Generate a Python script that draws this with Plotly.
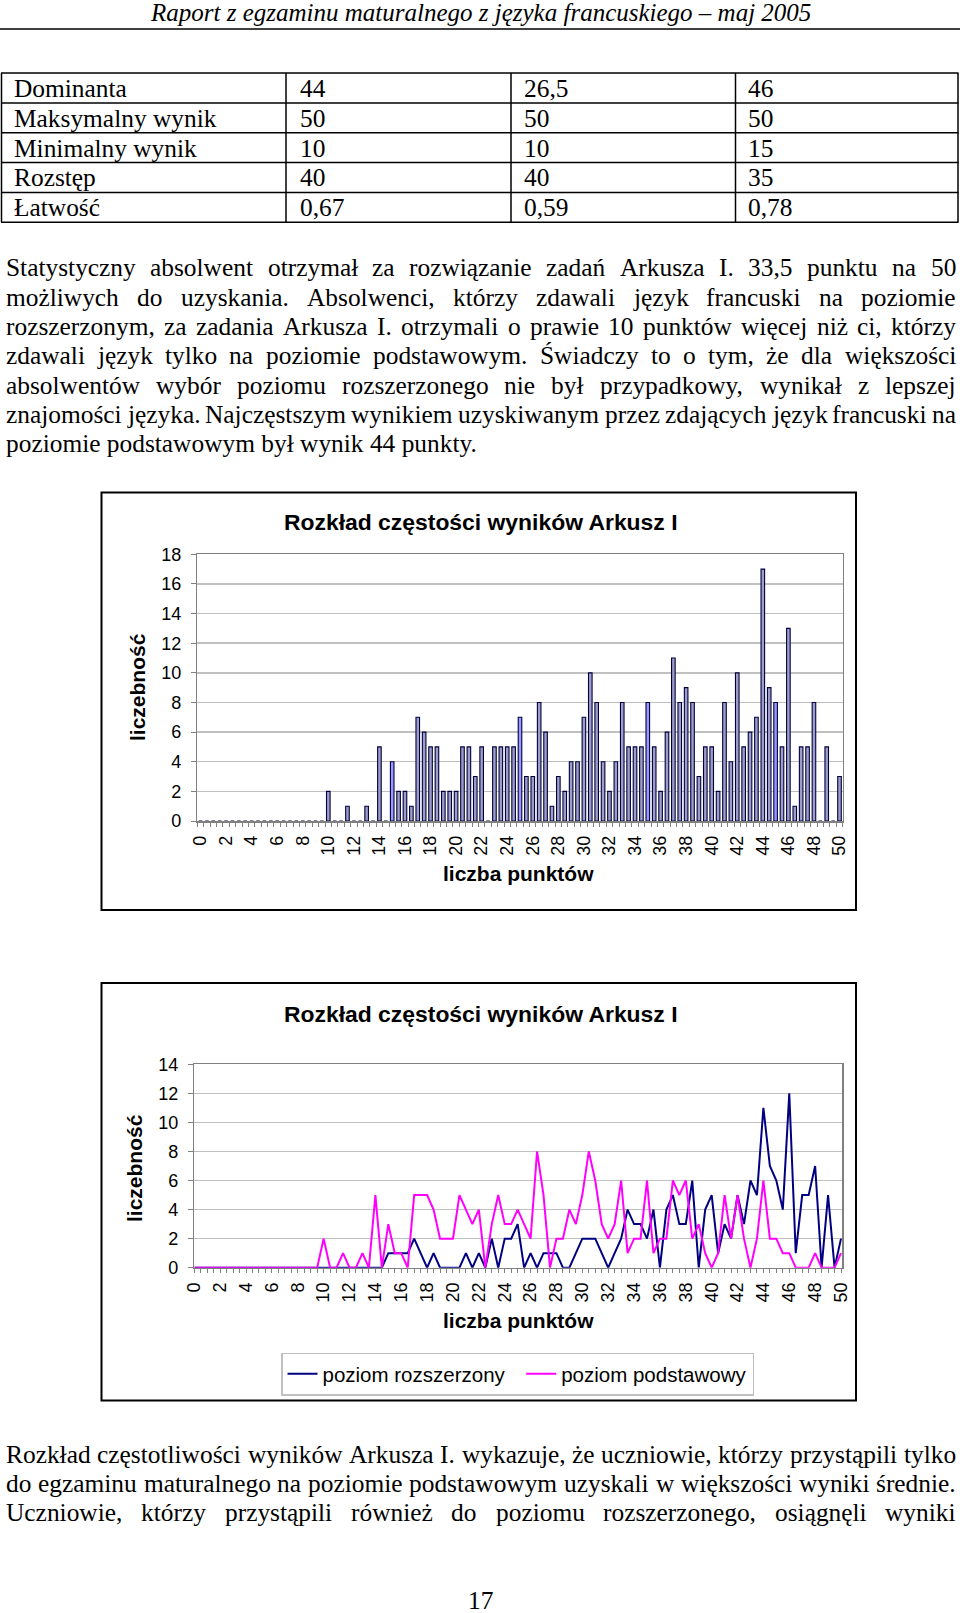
import plotly.graph_objects as go

W, H = 960, 1613
SERIF = "Liberation Serif, Times New Roman, serif"
SANS = "Arial, Liberation Sans, sans-serif"

# ---------------- data ----------------
header_text = "Raport z egzaminu maturalnego z języka francuskiego – maj 2005"

table_rows = ["Dominanta", "Maksymalny wynik", "Minimalny wynik", "Rozstęp", "Łatwość"]
table_col1 = ["44", "50", "10", "40", "0,67"]
table_col2 = ["26,5", "50", "10", "40", "0,59"]
table_col3 = ["46", "50", "15", "35", "0,78"]

para1 = [
    "Statystyczny absolwent otrzymał za rozwiązanie zadań Arkusza I. 33,5 punktu na 50",
    "możliwych do uzyskania. Absolwenci, którzy zdawali język francuski na poziomie",
    "rozszerzonym, za zadania Arkusza I. otrzymali o prawie 10 punktów więcej niż ci, którzy",
    "zdawali język tylko na poziomie podstawowym. Świadczy to o tym, że dla większości",
    "absolwentów wybór poziomu rozszerzonego nie był przypadkowy, wynikał z lepszej",
    "znajomości języka. Najczęstszym wynikiem uzyskiwanym przez zdających język francuski na",
    "poziomie podstawowym był wynik 44 punkty.",
]
para2 = [
    "Rozkład częstotliwości wyników Arkusza I. wykazuje, że uczniowie, którzy przystąpili tylko",
    "do egzaminu maturalnego na poziomie podstawowym uzyskali w większości wyniki średnie.",
    "Uczniowie, którzy przystąpili również do poziomu rozszerzonego, osiągnęli wyniki",
]
page_number = "17"

chart_title = "Rozkład częstości wyników Arkusz I"
y_title = "liczebność"
x_title = "liczba punktów"

# score categories 0, 0.5, ..., 50
scores = [i / 2 for i in range(101)]
tick_vals = [0, 2, 4, 6, 8, 10, 12, 14, 16, 18, 20, 22, 24, 26, 28, 30, 32, 34, 36, 38, 40, 42, 44, 46, 48, 50]
tick_text = ["0", "2", "4", "6", "8", "10", "12", "14", "16", "18", "20", "22", "24", "26",
             "28", "30", "32", "34", "36", "38", "40", "42", "44", "46", "48", "50"]

# chart 1: all candidates (counts per half-point score)
bar_counts = [
    0, 0, 0, 0, 0, 0, 0, 0, 0, 0,      # 0 - 4.5
    0, 0, 0, 0, 0, 0, 0, 0, 0, 0,      # 5 - 9.5
    2, 0, 0, 1, 0, 0, 1, 0, 5, 0,      # 10 - 14.5
    4, 2, 2, 1, 7, 6, 5, 5, 2, 2,      # 15 - 19.5
    2, 5, 5, 3, 5, 0, 5, 5, 5, 5,      # 20 - 24.5
    7, 3, 3, 8, 6, 1, 3, 2, 4, 4,      # 25 - 29.5
    7, 10, 8, 4, 2, 4, 8, 5, 5, 5,     # 30 - 34.5
    8, 5, 2, 6, 11, 8, 9, 8, 3, 5,     # 35 - 39.5
    5, 2, 8, 4, 10, 5, 6, 7, 17, 9,    # 40 - 44.5
    8, 5, 13, 1, 5, 5, 8, 0, 5, 0,     # 45 - 49.5
    3,                                 # 50
]
highlight_scores = [15, 25, 35, 45]

# chart 2: by exam level
rozszerzony = [
    0, 0, 0, 0, 0, 0, 0, 0, 0, 0,      # 0 - 4.5
    0, 0, 0, 0, 0, 0, 0, 0, 0, 0,      # 5 - 9.5
    0, 0, 0, 0, 0, 0, 0, 0, 0, 0,      # 10 - 14.5
    1, 1, 1, 1, 2, 1, 0, 1, 0, 0,      # 15 - 19.5
    0, 0, 1, 0, 1, 0, 2, 0, 2, 2,      # 20 - 24.5
    3, 0, 1, 0, 1, 1, 1, 0, 0, 1,      # 25 - 29.5
    2, 2, 2, 1, 0, 1, 2, 4, 3, 3,      # 30 - 34.5
    2, 4, 0, 4, 5, 3, 3, 6, 0, 4,      # 35 - 39.5
    5, 1, 3, 2, 5, 3, 6, 5, 11, 7,     # 40 - 44.5
    6, 4, 12, 1, 5, 5, 7, 0, 5, 0,     # 45 - 49.5
    2,                                 # 50
]
podstawowy = [
    0, 0, 0, 0, 0, 0, 0, 0, 0, 0,      # 0 - 4.5
    0, 0, 0, 0, 0, 0, 0, 0, 0, 0,      # 5 - 9.5
    2, 0, 0, 1, 0, 0, 1, 0, 5, 0,      # 10 - 14.5
    3, 1, 1, 0, 5, 5, 5, 4, 2, 2,      # 15 - 19.5
    2, 5, 4, 3, 4, 0, 3, 5, 3, 3,      # 20 - 24.5
    4, 3, 2, 8, 5, 0, 2, 2, 4, 3,      # 25 - 29.5
    5, 8, 6, 3, 2, 3, 6, 1, 2, 2,      # 30 - 34.5
    6, 1, 2, 2, 6, 5, 6, 2, 3, 1,      # 35 - 39.5
    0, 1, 5, 2, 5, 2, 0, 2, 6, 2,      # 40 - 44.5
    2, 1, 1, 0, 0, 0, 1, 0, 0, 0,      # 45 - 49.5
    1,                                 # 50
]
series_names = ["poziom rozszerzony", "poziom podstawowy"]

# ---------------- helpers ----------------
def px(x):
    return x / W


def py(y):
    return 1 - y / H


TIMES = {' ': 250, 'a': 444, 'b': 500, 'c': 444, 'd': 500, 'e': 444, 'f': 333, 'g': 500, 'h': 500,
         'i': 278, 'j': 278, 'k': 500, 'l': 278, 'm': 778, 'n': 500, 'o': 500, 'p': 500, 'q': 500,
         'r': 333, 's': 389, 't': 278, 'u': 500, 'v': 500, 'w': 722, 'x': 500, 'y': 500, 'z': 444,
         'A': 722, 'B': 667, 'C': 667, 'D': 722, 'E': 611, 'F': 556, 'G': 722, 'H': 722, 'I': 333,
         'J': 389, 'K': 722, 'L': 611, 'M': 889, 'N': 722, 'O': 722, 'P': 556, 'Q': 722, 'R': 667,
         'S': 556, 'T': 611, 'U': 722, 'V': 722, 'W': 944, 'X': 722, 'Y': 722, 'Z': 611,
         '.': 250, ',': 250, ':': 278, ';': 278, '-': 333, '–': 500}
BASE = {'ą': 'a', 'ć': 'c', 'ę': 'e', 'ł': 'l', 'ń': 'n', 'ó': 'o', 'ś': 's', 'ź': 'z', 'ż': 'z',
        'Ą': 'A', 'Ć': 'C', 'Ę': 'E', 'Ł': 'L', 'Ń': 'N', 'Ó': 'O', 'Ś': 'S', 'Ź': 'Z', 'Ż': 'Z'}


def tw(s, fs):
    tot = 0
    for ch in s:
        ch = BASE.get(ch, ch)
        tot += TIMES.get(ch, 500)
    return tot * fs / 1000.0


annotations = []
shapes = []
FS = 25.4
LEFT, RIGHT = 5, 955


def text_at(x, y, s, size=FS, family=SERIF, xanchor='left', bold=False, italic=False, angle=0):
    if bold:
        s = "<b>" + s + "</b>"
    if italic:
        s = "<i>" + s + "</i>"
    annotations.append(dict(x=px(x), y=py(y), xref='paper', yref='paper', text=s, showarrow=False,
                            xanchor=xanchor, yanchor='middle', borderpad=0, textangle=angle,
                            font=dict(family=family, size=size, color='black')))


def para_line(s, y, justify=True):
    words = s.split(' ')
    if not justify or len(words) < 2:
        text_at(LEFT, y, s)
        return
    widths = [tw(w, FS) for w in words]
    gap = (RIGHT - LEFT - sum(widths)) / (len(words) - 1)
    gap = max(gap, 3)
    x = LEFT
    for w, wd in zip(words, widths):
        text_at(x, y, w)
        x += wd + gap


def hline(x0, x1, y, width=1.5, color='black'):
    shapes.append(dict(type='line', xref='paper', yref='paper', x0=px(x0), x1=px(x1), y0=py(y), y1=py(y),
                       line=dict(color=color, width=width)))


def vline(x, y0, y1, width=1.5, color='black'):
    shapes.append(dict(type='line', xref='paper', yref='paper', x0=px(x), x1=px(x), y0=py(y0), y1=py(y1),
                       line=dict(color=color, width=width)))


# ---------------- page text ----------------
text_at(480, 13, header_text, size=25, xanchor='center', italic=True)
hline(0, 960, 29, width=1.5)

row_lines = [73, 102.9, 132.7, 162.6, 192.4, 222.2]
col_lines = [1.5, 286, 511, 735.5, 958]
col_text_x = [13, 299, 523, 747]
for yl in row_lines:
    hline(1, 958.5, yl)
for xl in col_lines:
    vline(xl, row_lines[0], row_lines[-1])
for i in range(len(table_rows)):
    yc = (row_lines[i] + row_lines[i + 1]) / 2
    for cx, col in zip(col_text_x, [table_rows, table_col1, table_col2, table_col3]):
        text_at(cx, yc, col[i])

p1_y = [267.5, 296.8, 326.1, 355.4, 384.7, 414.0, 443.3]
for i, (s, yy) in enumerate(zip(para1, p1_y)):
    para_line(s, yy, justify=(i < len(para1) - 1))

p2_y = [1454, 1483, 1511.6]
for s, yy in zip(para2, p2_y):
    para_line(s, yy, justify=True)

text_at(480, 1600, page_number, xanchor='center')

# ---------------- chart frames & chart texts ----------------
for (x0, y0, x1, y1) in [(101.5, 492.5, 856, 910), (101.5, 983, 856, 1400.5)]:
    shapes.append(dict(type='rect', xref='paper', yref='paper', x0=px(x0), x1=px(x1), y0=py(y1), y1=py(y0),
                       line=dict(color='black', width=2), fillcolor='rgba(0,0,0,0)'))

text_at(480.5, 521.5, chart_title, size=22.9, family=SANS, xanchor='center', bold=True)
text_at(480.5, 1013.5, chart_title, size=22.9, family=SANS, xanchor='center', bold=True)
text_at(137, 687, y_title, size=21, family=SANS, xanchor='center', bold=True, angle=-90)
text_at(134, 1168, y_title, size=21, family=SANS, xanchor='center', bold=True, angle=-90)
text_at(518.5, 873, x_title, size=21, family=SANS, xanchor='center', bold=True)
text_at(518.5, 1320, x_title, size=21, family=SANS, xanchor='center', bold=True)

# ---------------- traces ----------------
bar_colors = ['#9999ff' if s in highlight_scores else '#9d9dc6' for s in scores]

fig = go.Figure()
fig.add_trace(go.Bar(x=scores, y=bar_counts, width=0.28, xaxis='x', yaxis='y', showlegend=False,
                     marker=dict(color=bar_colors, line=dict(color='#000040', width=1.1))))
fig.add_trace(go.Scatter(x=scores, y=rozszerzony, mode='lines', name=series_names[0] + '\u00a0\u00a0',
                         xaxis='x2', yaxis='y2', line=dict(color='#000080', width=2)))
fig.add_trace(go.Scatter(x=scores, y=podstawowy, mode='lines', name=series_names[1],
                         xaxis='x2', yaxis='y2', line=dict(color='#ff00ff', width=2)))

tickfont = dict(family=SANS, size=18, color='black')


def xaxis_cfg(domain, rng, minor0):
    return dict(domain=domain, range=rng, tickmode='array', tickvals=tick_vals, ticktext=tick_text,
                tickangle=-90, ticks='', showgrid=False, zeroline=False, showline=True,
                linecolor='#808080', linewidth=1.5, mirror=True, tickfont=tickfont,
                ticklabelstandoff=6, fixedrange=True, automargin=False,
                minor=dict(tickmode='linear', tick0=minor0, dtick=0.5, ticks='outside', ticklen=4,
                           tickcolor='#808080', tickwidth=1, showgrid=False))


def yaxis_cfg(domain, rng, anchor):
    return dict(domain=domain, range=rng, anchor=anchor, tickmode='linear', tick0=0, dtick=2,
                ticks='outside', ticklen=5, tickcolor='#808080', showgrid=True, gridcolor='#c0c0c0',
                gridwidth=1.5, zeroline=False, showline=True, linecolor='#808080', linewidth=1.5,
                mirror=True, tickfont=tickfont, ticklabelstandoff=6, fixedrange=True, automargin=False)


fig.update_layout(
    width=W, height=H, margin=dict(l=0, r=0, t=0, b=0, pad=0, autoexpand=False), autosize=False,
    paper_bgcolor='white', plot_bgcolor='white',
    xaxis=xaxis_cfg([px(197.3), px(842.7)], [-0.25, 50.25], -0.25) | dict(anchor='y'),
    yaxis=yaxis_cfg([py(821), py(554.3)], [0, 18], 'x'),
    xaxis2=xaxis_cfg([px(194.3), px(842.3)], [0, 50.1], 0) | dict(anchor='y2'),
    yaxis2=yaxis_cfg([py(1267.7), py(1064.3)], [0, 14], 'x2'),
    bargap=0,
    showlegend=True,
    legend=dict(x=px(281), y=py(1352.5), xanchor='left', yanchor='top', orientation='h',
                bgcolor='white', bordercolor='#c0c0c0', borderwidth=1.5,
                font=dict(family=SANS, size=20.5, color='black'), itemwidth=30),
    annotations=annotations,
    shapes=shapes,
)

fig.write_html("out.html", config={'displayModeBar': False, 'staticPlot': True},
               post_script="document.documentElement.style.margin='0px';"
                           "document.body.style.margin='0px';document.body.style.padding='0px';")
